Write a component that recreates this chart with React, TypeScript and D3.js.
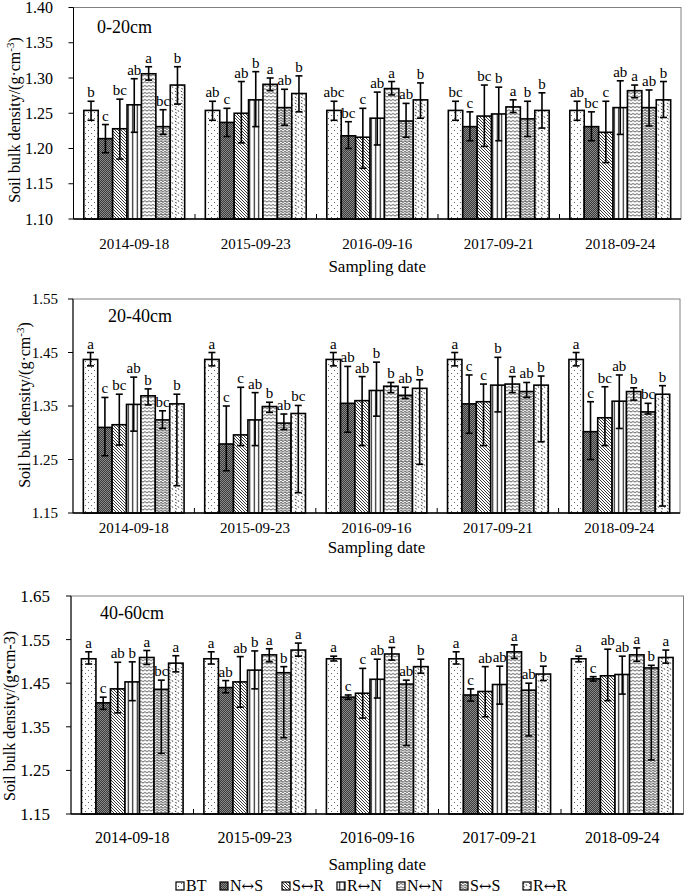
import React from "react";
import * as d3 from "d3";

const dates = ["2014-09-18", "2015-09-23", "2016-09-16", "2017-09-21", "2018-09-24"];
const treatments = ["BT", "N↔S", "S↔R", "R↔N", "N↔N", "S↔S", "R↔R"];

// rows = treatments, columns = dates
const mean020 = [
  [1.254, 1.254, 1.254, 1.254, 1.254],
  [1.214, 1.237, 1.218, 1.231, 1.231],
  [1.228, 1.25, 1.216, 1.246, 1.223],
  [1.262, 1.269, 1.243, 1.249, 1.258],
  [1.306, 1.291, 1.285, 1.259, 1.282],
  [1.231, 1.258, 1.239, 1.242, 1.258],
  [1.29, 1.278, 1.269, 1.254, 1.269],
];
const upper020 = [
  [1.267, 1.267, 1.267, 1.267, 1.267],
  [1.234, 1.257, 1.238, 1.252, 1.252],
  [1.27, 1.295, 1.257, 1.29, 1.267],
  [1.299, 1.309, 1.28, 1.287, 1.296],
  [1.316, 1.3, 1.295, 1.269, 1.29],
  [1.255, 1.284, 1.264, 1.267, 1.283],
  [1.316, 1.303, 1.293, 1.279, 1.295],
];
const lower020 = [
  [1.24, 1.24, 1.24, 1.24, 1.24],
  [1.194, 1.217, 1.2, 1.211, 1.211],
  [1.185, 1.208, 1.172, 1.203, 1.18],
  [1.223, 1.231, 1.205, 1.211, 1.22],
  [1.297, 1.282, 1.276, 1.251, 1.272],
  [1.22, 1.233, 1.216, 1.217, 1.232],
  [1.263, 1.252, 1.243, 1.229, 1.244],
];
const letters020 = [
  ["b", "ab", "abc", "bc", "ab"],
  ["c", "c", "bc", "c", "bc"],
  ["bc", "ab", "c", "bc", "c"],
  ["ab", "b", "ab", "b", "ab"],
  ["a", "a", "a", "a", "a"],
  ["bc", "ab", "ab", "b", "ab"],
  ["b", "b", "b", "b", "b"],
];

const mean2040 = [
  [1.437, 1.437, 1.437, 1.437, 1.437],
  [1.31, 1.279, 1.355, 1.354, 1.302],
  [1.315, 1.296, 1.36, 1.358, 1.328],
  [1.353, 1.324, 1.379, 1.389, 1.359],
  [1.369, 1.349, 1.387, 1.391, 1.377],
  [1.324, 1.318, 1.37, 1.377, 1.339],
  [1.354, 1.336, 1.383, 1.389, 1.372],
];
const upper2040 = [
  [1.45, 1.45, 1.45, 1.45, 1.45],
  [1.366, 1.35, 1.424, 1.408, 1.358],
  [1.372, 1.385, 1.405, 1.391, 1.386],
  [1.404, 1.375, 1.432, 1.441, 1.408],
  [1.382, 1.357, 1.394, 1.405, 1.384],
  [1.341, 1.335, 1.385, 1.394, 1.355],
  [1.372, 1.351, 1.399, 1.406, 1.388],
];
const lower2040 = [
  [1.425, 1.425, 1.425, 1.425, 1.425],
  [1.257, 1.229, 1.301, 1.299, 1.25],
  [1.277, 1.276, 1.276, 1.276, 1.276],
  [1.303, 1.276, 1.331, 1.339, 1.308],
  [1.352, 1.338, 1.375, 1.375, 1.361],
  [1.308, 1.306, 1.364, 1.366, 1.335],
  [1.201, 1.188, 1.241, 1.283, 1.163],
];
const letters2040 = [
  ["a", "a", "a", "a", "a"],
  ["c", "c", "ab", "c", "c"],
  ["bc", "c", "ab", "c", "bc"],
  ["ab", "ab", "b", "b", "ab"],
  ["b", "b", "b", "a", "b"],
  ["bc", "ab", "ab", "ab", "bc"],
  ["b", "bc", "b", "b", "b"],
];

const mean4060 = [
  [1.506, 1.506, 1.506, 1.506, 1.506],
  [1.405, 1.44, 1.418, 1.423, 1.46],
  [1.437, 1.453, 1.427, 1.431, 1.467],
  [1.453, 1.48, 1.459, 1.447, 1.47],
  [1.509, 1.515, 1.517, 1.522, 1.515],
  [1.436, 1.474, 1.448, 1.434, 1.485],
  [1.496, 1.526, 1.488, 1.471, 1.509],
];
const upper4060 = [
  [1.522, 1.522, 1.512, 1.522, 1.512],
  [1.418, 1.456, 1.423, 1.437, 1.465],
  [1.498, 1.511, 1.484, 1.488, 1.528],
  [1.499, 1.524, 1.505, 1.489, 1.512],
  [1.525, 1.529, 1.532, 1.538, 1.531],
  [1.457, 1.488, 1.457, 1.45, 1.491],
  [1.513, 1.542, 1.505, 1.489, 1.526],
];
const lower4060 = [
  [1.494, 1.494, 1.501, 1.494, 1.499],
  [1.39, 1.428, 1.413, 1.409, 1.455],
  [1.382, 1.395, 1.37, 1.373, 1.41],
  [1.41, 1.437, 1.416, 1.402, 1.425],
  [1.493, 1.499, 1.503, 1.507, 1.5],
  [1.289, 1.325, 1.307, 1.329, 1.274],
  [1.476, 1.512, 1.473, 1.456, 1.496],
];
const letters4060 = [
  ["a", "a", "a", "a", "a"],
  ["c", "ab", "c", "c", "c"],
  ["ab", "ab", "c", "ab", "ab"],
  ["b", "b", "ab", "ab", "ab"],
  ["a", "a", "a", "a", "a"],
  ["bc", "b", "ab", "ab", "b"],
  ["a", "a", "b", "b", "a"],
];

const yTicks020 = [1.1, 1.15, 1.2, 1.25, 1.3, 1.35, 1.4];
const yTicks2040 = [1.15, 1.25, 1.35, 1.45, 1.55];
const yTicks4060 = [1.15, 1.25, 1.35, 1.45, 1.55, 1.65];

const patternIds = ["pBT", "pNS", "pSR", "pRN", "pNN", "pSS", "pRR"];
const FONT = "'Liberation Serif', 'Times New Roman', serif";

function Patterns() {
  return (
    <defs>
      <pattern id="pBT" width="6" height="6" patternUnits="userSpaceOnUse">
        <rect width="6" height="6" fill="#fff" />
        <rect x="1" y="1" width="1" height="1" fill="#666" />
        <rect x="4" y="4" width="1" height="1" fill="#666" />
      </pattern>
      <pattern id="pNS" width="2" height="2" patternUnits="userSpaceOnUse">
        <rect width="2" height="2" fill="#3a3a3a" />
        <rect x="0" y="0" width="1" height="1" fill="#8a8a8a" />
        <rect x="1" y="1" width="1" height="1" fill="#8a8a8a" />
      </pattern>
      <pattern id="pSR" width="3" height="3" patternUnits="userSpaceOnUse">
        <rect width="3" height="3" fill="#fff" />
        <path d="M-1,-1 L4,4 M-1,2 L1,4 M2,-1 L4,1" stroke="#222" strokeWidth="0.9" />
      </pattern>
      <pattern id="pRN" width="4.5" height="4" patternUnits="userSpaceOnUse">
        <rect width="4.5" height="4" fill="#fff" />
        <line x1="2.25" y1="0" x2="2.25" y2="4" stroke="#111" strokeWidth="1.1" />
      </pattern>
      <pattern id="pNN" width="4" height="3.5" patternUnits="userSpaceOnUse">
        <rect width="4" height="3.5" fill="#fff" />
        <path d="M0,2 Q1,0.6 2,2 T4,2" stroke="#222" strokeWidth="0.8" fill="none" />
      </pattern>
      <pattern id="pSS" width="4" height="2.6" patternUnits="userSpaceOnUse">
        <rect width="4" height="2.6" fill="#fff" />
        <path d="M0,1.3 Q1,0 2,1.3 T4,1.3" stroke="#222" strokeWidth="1" fill="none" />
      </pattern>
      <pattern id="pRR" width="6" height="6" patternUnits="userSpaceOnUse">
        <rect width="6" height="6" fill="#fff" />
        <path d="M0.8,1 l1.5,0.8 M4,2.3 l0.8,1.4 M1.4,4.4 l1.4,0.7" stroke="#333" strokeWidth="1" />
      </pattern>
    </defs>
  );
}

type PanelProps = {
  left: number; right: number; top: number; bottom: number;
  domain: [number, number]; ticks: number[];
  means: number[][]; upper: number[][]; lower: number[][]; letters: string[][];
  depth: string; depthX: number; depthY: number;
  titleX: number; titleY: number; title: React.ReactNode;
  tickFont: number; tickLabelX: number; catY: number; catFont: number;
  axisTitleY: number; axisTitleFont: number;
};

function Panel(p: PanelProps) {
  const x0 = d3.scaleBand<string>().domain(dates).range([p.left, p.right]).paddingInner(0.17).paddingOuter(0.085);
  const x1 = d3.scaleBand<string>().domain(treatments).range([0, x0.bandwidth()]);
  const y = d3.scaleLinear().domain(p.domain).range([p.bottom, p.top]);
  const step = x0.step();
  const bw = x1.bandwidth();
  return (
    <g>
      <rect x={p.left} y={p.top} width={p.right - p.left} height={p.bottom - p.top} fill="none" stroke="#808080" strokeWidth={1} />
      {treatments.map((t, ti) =>
        dates.map((d, di) => {
          const v = p.means[ti][di];
          return (
            <rect key={t + d} x={(x0(d) as number) + (x1(t) as number)} y={y(v)} width={bw} height={p.bottom - y(v)}
              fill={`url(#${patternIds[ti]})`} stroke="#000" strokeWidth={1.6} />
          );
        })
      )}
      {treatments.map((t, ti) =>
        dates.map((d, di) => {
          const cx = (x0(d) as number) + (x1(t) as number) + bw / 2;
          const yh = y(p.upper[ti][di]);
          const yl = y(p.lower[ti][di]);
          return (
            <g key={"e" + t + d} stroke="#000" strokeWidth={1.6}>
              <line x1={cx} x2={cx} y1={yh} y2={yl} />
              <line x1={cx - 3.5} x2={cx + 3.5} y1={yh} y2={yh} />
              <line x1={cx - 3.5} x2={cx + 3.5} y1={yl} y2={yl} />
            </g>
          );
        })
      )}
      {treatments.map((t, ti) =>
        dates.map((d, di) => {
          const cx = (x0(d) as number) + (x1(t) as number) + bw / 2;
          const yh = y(p.upper[ti][di]);
          return (
            <text key={"l" + t + d} x={cx} y={yh - 4} textAnchor="middle" fontSize={15} fontFamily={FONT} fill="#000">
              {p.letters[ti][di]}
            </text>
          );
        })
      )}
      <line x1={p.left} x2={p.left} y1={p.top} y2={p.bottom} stroke="#000" strokeWidth={1} />
      <line x1={p.left} x2={p.right} y1={p.bottom} y2={p.bottom} stroke="#000" strokeWidth={1.5} />
      {[1, 2, 3, 4].map((i) => (
        <line key={"bt" + i} x1={p.left + i * step} x2={p.left + i * step} y1={p.bottom} y2={p.bottom - 5} stroke="#000" strokeWidth={1} />
      ))}
      {p.ticks.map((t) => (
        <g key={"t" + t}>
          <line x1={p.left - 5} x2={p.left} y1={y(t)} y2={y(t)} stroke="#000" strokeWidth={1} />
          <text x={p.tickLabelX} y={y(t)} dy="0.35em" textAnchor="end" fontSize={p.tickFont} fontFamily={FONT} fill="#000">
            {t.toFixed(2)}
          </text>
        </g>
      ))}
      {dates.map((d) => (
        <text key={"c" + d} x={(x0(d) as number) + x0.bandwidth() / 2} y={p.catY} textAnchor="middle" fontSize={p.catFont} fontFamily={FONT} fill="#000">
          {d}
        </text>
      ))}
      <text x={(p.left + p.right) / 2} y={p.axisTitleY} textAnchor="middle" fontSize={p.axisTitleFont} fontFamily={FONT} fill="#000">
        Sampling date
      </text>
      <text x={p.depthX} y={p.depthY} fontSize={18} fontFamily={FONT} fill="#000">{p.depth}</text>
      <text transform={`translate(${p.titleX},${p.titleY}) rotate(-90)`} textAnchor="middle" dy="0.35em" fontSize={16} fontFamily={FONT} fill="#000">
        {p.title}
      </text>
    </g>
  );
}

const legendX = [176, 220, 282, 337, 397, 460, 523];

function LegendLabel({ t }: { t: string }) {
  const parts = t.split("↔");
  if (parts.length === 1) return <>{t}</>;
  return (
    <>
      {parts[0]}
      <tspan fontFamily="'DejaVu Serif', serif" fontSize={15}>↔</tspan>
      {parts[1]}
    </>
  );
}

export default function App() {
  return (
    <svg width={685} height={896} style={{ position: "absolute", left: 0, top: 0, background: "#fff" }}>
      <Patterns />
      <rect width={685} height={896} fill="#fff" />
      <Panel left={73.5} right={681} top={7.5} bottom={219} domain={[1.1, 1.4]} ticks={yTicks020}
        means={mean020} upper={upper020} lower={lower020} letters={letters020}
        depth="0-20cm" depthX={97} depthY={33} titleX={14} titleY={120}
        title={<>Soil bulk density/(g·cm<tspan dy={-6} fontSize={11}>-3</tspan><tspan dy={6}>)</tspan></>}
        tickFont={16} tickLabelX={53} catY={249} catFont={15} axisTitleY={272} axisTitleFont={17} />
      <Panel left={73} right={680} top={299} bottom={513} domain={[1.15, 1.55]} ticks={yTicks2040}
        means={mean2040} upper={upper2040} lower={lower2040} letters={letters2040}
        depth="20-40cm" depthX={108} depthY={322} titleX={24} titleY={405}
        title={<>Soil bulk density/(g·cm<tspan dy={-6} fontSize={11}>-3</tspan><tspan dy={6}>)</tspan></>}
        tickFont={15} tickLabelX={58} catY={533} catFont={15} axisTitleY={553} axisTitleFont={17} />
      <Panel left={71} right={683.5} top={596} bottom={814} domain={[1.15, 1.65]} ticks={yTicks4060}
        means={mean4060} upper={upper4060} lower={lower4060} letters={letters4060}
        depth="40-60cm" depthX={100} depthY={619} titleX={9} titleY={716}
        title={<>Soil bulk density/(g•cm-3)</>}
        tickFont={17} tickLabelX={50} catY={843} catFont={16} axisTitleY={870} axisTitleFont={17} />
      {treatments.map((t, i) => (
        <g key={"lg" + t}>
          <rect x={legendX[i]} y={882} width={8} height={8} fill={`url(#${patternIds[i]})`} stroke="#000" strokeWidth={1.2} />
          <text x={legendX[i] + 10} y={891} fontSize={16} fontFamily={FONT} fill="#000"><LegendLabel t={t} /></text>
        </g>
      ))}
    </svg>
  );
}
